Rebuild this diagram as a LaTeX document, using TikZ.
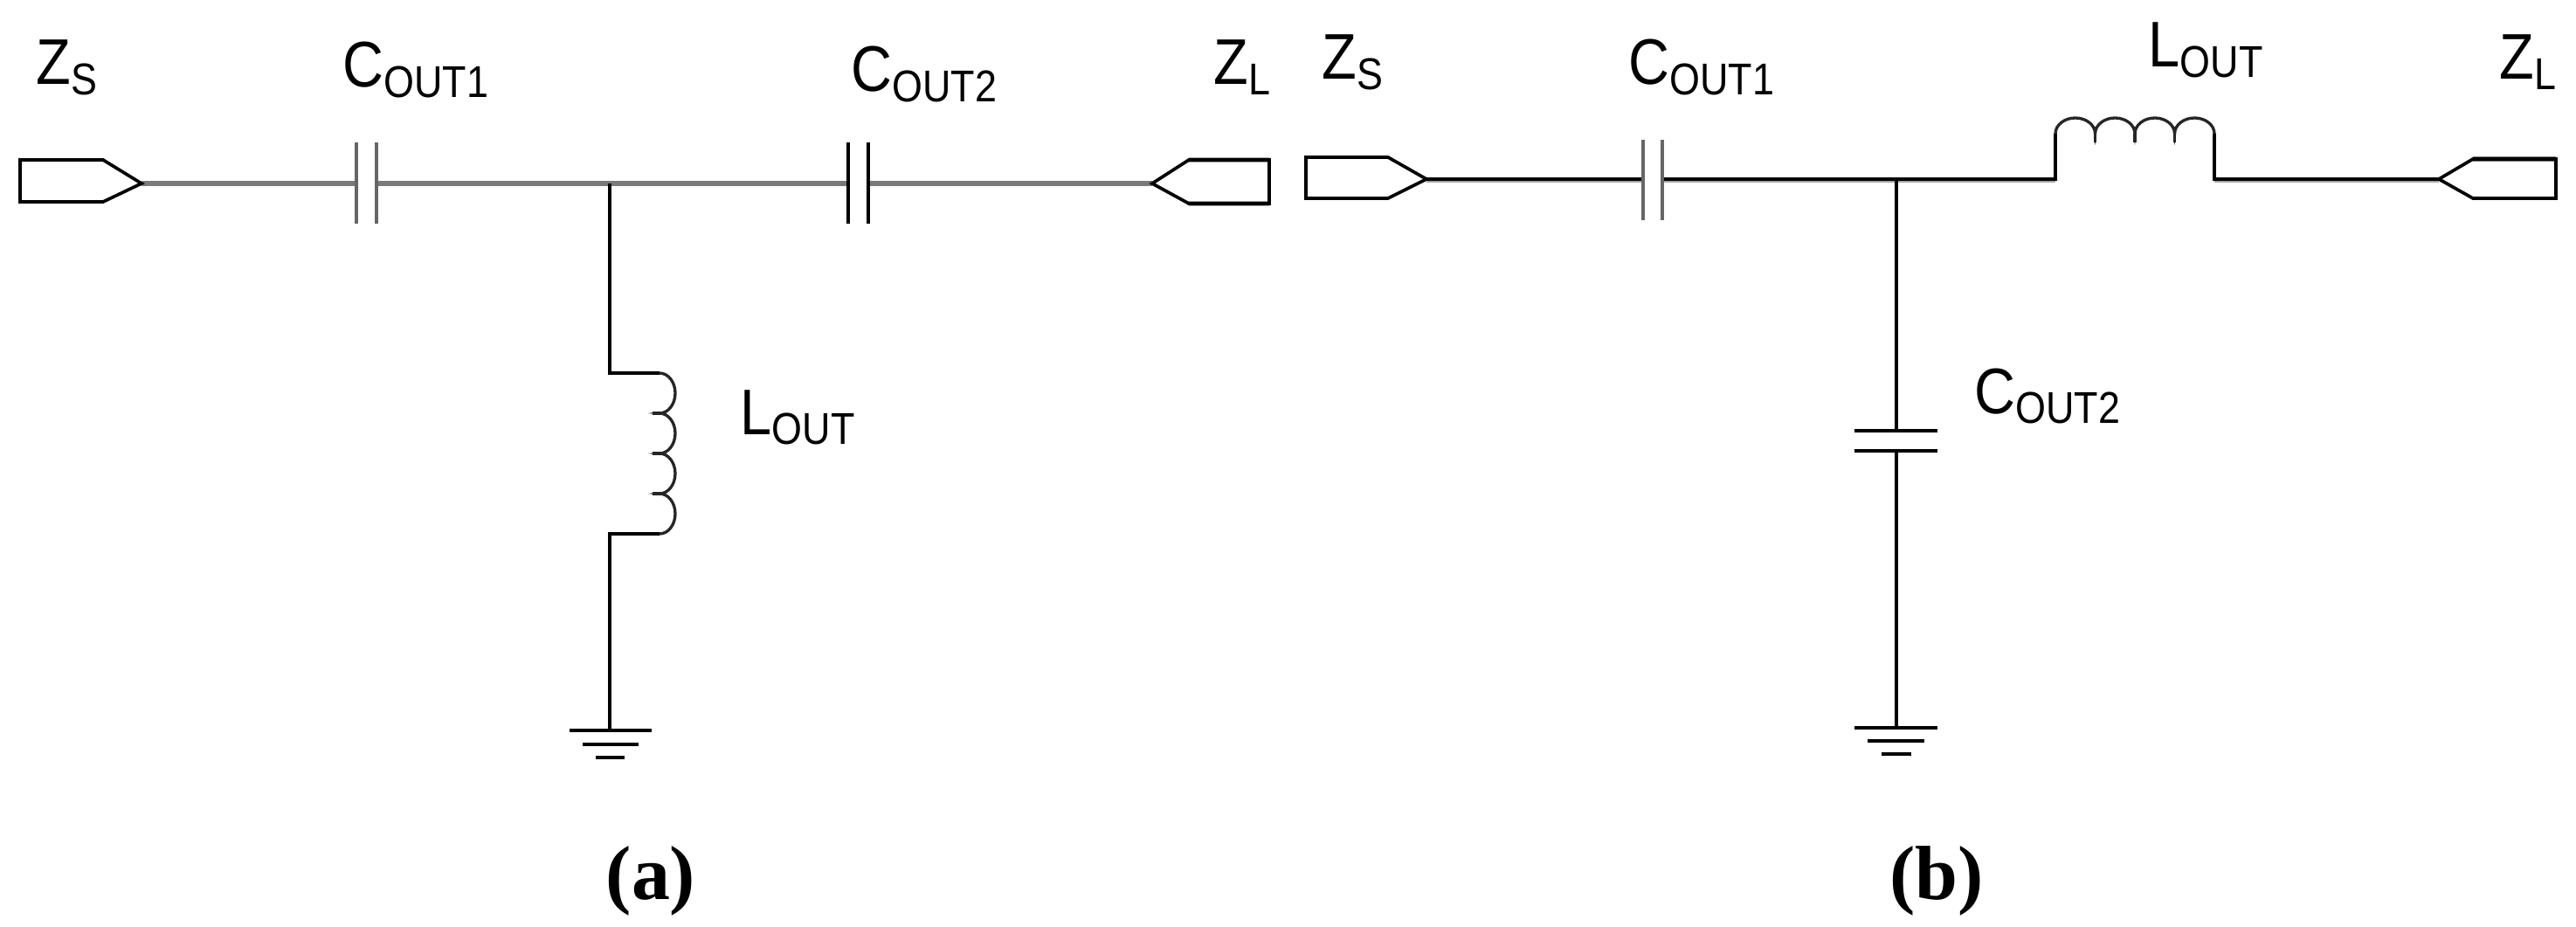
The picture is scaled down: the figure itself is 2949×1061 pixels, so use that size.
\documentclass[tikz,border=0pt]{standalone}
\usepackage{fontspec}
\setmainfont{Liberation Serif}
\newfontfamily\circuitfont[FakeStretch=0.88]{Liberation Sans}
\newcommand{\cktlabel}[2]{{\circuitfont\fontsize{21}{21}\selectfont #1\raisebox{-3.4pt}{\fontsize{14.5}{14.5}\selectfont #2}}}
\tikzset{
  wire/.style={line width=1.05pt,black,line join=miter},
  thickwire/.style={line width=1.85pt,black!52},
  softwire/.style={line width=1.7pt,black!35},
  plategray/.style={line width=1.35pt,black!60},
  coil/.style={line width=0.95pt,black!85},
  lbl/.style={anchor=base west,inner sep=0pt},
  caption/.style={anchor=base,inner sep=0pt,font=\bfseries\fontsize{25}{25}\selectfont}
}

\begin{document}
\begin{tikzpicture}[x=0.01cm,y=-0.01cm]
  \useasboundingbox (0,0) rectangle (2949,1061);
  % circuit (a)
  \coordinate (SA) at (162,210);
  \coordinate (CAa) at (408,210);
  \coordinate (CAb) at (431,210);
  \coordinate (JA) at (698,210);
  \coordinate (CBa) at (971,210);
  \coordinate (CBb) at (994,210);
  \coordinate (RA) at (1319,210);
  \coordinate (LAt) at (698,427);
  \coordinate (LAa) at (755,427);
  \coordinate (LAb) at (698,611);
  \coordinate (GA) at (698,836);
  \draw[thickwire] (SA)--(CAa);
  \draw[thickwire] (CAb)--(CBa);
  \draw[thickwire] (CBb)--(RA);
  \draw[wire] (23,183)--(118,183)--(SA)--(118,231)--(23,231)--cycle;
  \draw[softwire,line width=1.5pt] (1361,183)--(1453,183);
  \draw[softwire,line width=1.5pt] (1361,233)--(1453,233);
  \draw[wire] (1453,183)--(1361,183)--(RA)--(1361,233)--(1453,233)--cycle;
  \draw[plategray] (CAa)++(0,-47)--++(0,93);
  \draw[plategray] (CAb)++(0,-47)--++(0,93);
  \draw[wire] (CBa)++(0,-47)--++(0,93);
  \draw[wire] (CBb)++(0,-47)--++(0,93);
  \draw[wire] (JA)--(LAt)--(LAa);
  \draw[coil] (LAa) arc[start angle=-90,end angle=90,x radius=18,y radius=23]
    arc[start angle=-90,end angle=90,x radius=18,y radius=23]
    arc[start angle=-90,end angle=90,x radius=18,y radius=23]
    arc[start angle=-90,end angle=90,x radius=18,y radius=23];
  \draw[coil] (747,473)--(757,473);
  \draw[coil] (747,519)--(757,519);
  \draw[coil] (747,565)--(757,565);
  \draw[wire] (755,611)--(LAb)--(GA);
  \draw[wire] (652,836)--(746,836);
  \draw[wire] (667,852)--(731,852);
  \draw[wire] (682,867)--(715,867);
  \node[lbl] (ZSa) at (41,97) {\cktlabel{Z}{S}};
  \node[lbl] (COa) at (392,100) {\cktlabel{C}{OUT1}};
  \node[lbl] (CTa) at (974,105) {\cktlabel{C}{OUT2}};
  \node[lbl] (ZLa) at (1389,97) {\cktlabel{Z}{L}};
  \node[lbl] (LOa) at (847,497) {\cktlabel{L}{OUT}};
  \node[caption] (capa) at (745,1029) {(a)};
  % circuit (b)
  \coordinate (SB) at (1633,205);
  \coordinate (CCa) at (1881,205);
  \coordinate (CCb) at (1903,205);
  \coordinate (JB) at (2171,205);
  \coordinate (LBa) at (2353,205);
  \coordinate (LBt) at (2353,153);
  \coordinate (LBb) at (2535,205);
  \coordinate (RB) at (2792,205);
  \coordinate (CDa) at (2171,493);
  \coordinate (CDb) at (2171,516);
  \coordinate (GB) at (2171,833);
  \draw[softwire] (SB)++(0,1)--(1881,206);
  \draw[softwire] (1903,206)--(2353,206);
  \draw[softwire] (2535,206)--(2792,206);
  \draw[wire] (SB)--(CCa);
  \draw[wire] (CCb)--(JB)--(LBa)--(LBt);
  \draw[coil] (LBt) arc[start angle=180,end angle=360,x radius=22.75,y radius=18]
    arc[start angle=180,end angle=360,x radius=22.75,y radius=18]
    arc[start angle=180,end angle=360,x radius=22.75,y radius=18]
    arc[start angle=180,end angle=360,x radius=22.75,y radius=18];
  \draw[coil] (2398.5,153)--(2398.5,163);
  \draw[coil] (2444,153)--(2444,163);
  \draw[coil] (2489.5,153)--(2489.5,163);
  \draw[wire] (2535,153)--(LBb)--(RB);
  \draw[wire] (1495,180)--(1589,180)--(SB)--(1589,227)--(1495,227)--cycle;
  \draw[thickwire,line width=1.5pt] (2831,182)--(2926,182);
  \draw[wire] (2926,182)--(2831,182)--(RB)--(2831,227)--(2926,227)--cycle;
  \draw[plategray] (CCa)++(0,-45)--++(0,92);
  \draw[plategray] (CCb)++(0,-45)--++(0,92);
  \draw[wire] (JB)--(CDa);
  \draw[wire] (CDb)--(GB);
  \draw[wire] (2123,493)--(2218,493);
  \draw[wire] (2123,516)--(2218,516);
  \draw[wire] (2123,833)--(2218,833);
  \draw[wire] (2138,848)--(2203,848);
  \draw[wire] (2154,863)--(2188,863);
  \node[lbl] (ZSb) at (1513,91) {\cktlabel{Z}{S}};
  \node[lbl] (COb) at (1864,97) {\cktlabel{C}{OUT1}};
  \node[lbl] (LOb) at (2459,77) {\cktlabel{L}{OUT}};
  \node[lbl] (ZLb) at (2861,91) {\cktlabel{Z}{L}};
  \node[lbl] (CTb) at (2260,473) {\cktlabel{C}{OUT2}};
  \node[caption] (capb) at (2217,1029) {(b)};
\end{tikzpicture}
\end{document}
